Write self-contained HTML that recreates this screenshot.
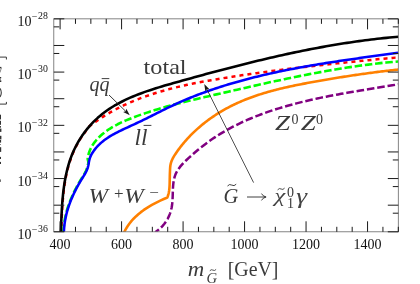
<!DOCTYPE html>
<html><head><meta charset="utf-8"><title>Gravitino decay width</title>
<style>
html,body{margin:0;padding:0;background:#fff;}
.ls, .ls text{font-family:"Liberation Serif",serif;}
body{width:420px;height:284px;overflow:hidden;position:relative;font-family:"Liberation Serif",serif;}
</style></head><body>
<svg width="420" height="284" viewBox="0 0 420 284" style="position:absolute;left:0;top:0;display:block;will-change:transform">
<defs><clipPath id="c"><rect x="53.80" y="18.85" width="344.50" height="212.95"/></clipPath></defs>
<rect x="0" y="0" width="420" height="284" fill="#fff"/>
<g clip-path="url(#c)" fill="none" stroke-linejoin="round">
<path d="M155.26,232.21 L157.87,230.31 L160.26,228.27 L162.44,226.08 L164.40,223.76 L166.14,221.32 L167.67,218.77 L168.99,216.11 L170.09,213.34 L170.98,210.48 L171.66,207.53 L172.13,204.51 L172.43,201.42 L172.61,198.30 L172.72,195.15 L172.81,192.00 L172.93,188.87 L173.11,185.77 L173.43,182.74 L173.91,179.78 L174.62,176.92 L175.59,174.17 L176.87,171.56 L178.41,169.07 L180.19,166.68 L182.16,164.39 L184.28,162.17 L186.50,160.02 L188.78,157.92 L191.09,155.85 L193.41,153.81 L195.74,151.81 L198.09,149.83 L200.45,147.90 L202.83,146.00 L205.24,144.14 L207.67,142.32 L210.13,140.55 L212.62,138.82 L215.13,137.13 L217.67,135.49 L220.24,133.88 L222.84,132.32 L225.46,130.80 L228.10,129.32 L230.76,127.87 L233.45,126.47 L236.16,125.10 L238.89,123.77 L241.64,122.46 L244.41,121.19 L247.19,119.95 L250.00,118.75 L252.82,117.57 L255.65,116.43 L258.50,115.32 L261.36,114.24 L264.24,113.20 L267.12,112.17 L270.02,111.18 L272.93,110.22 L275.85,109.28 L278.77,108.37 L281.71,107.48 L284.65,106.62 L287.59,105.78 L290.55,104.96 L293.50,104.17 L296.46,103.39 L299.43,102.64 L302.39,101.91 L305.36,101.20 L308.32,100.50 L311.30,99.83 L314.27,99.17 L317.24,98.52 L320.22,97.89 L323.20,97.28 L326.18,96.68 L329.16,96.09 L332.14,95.52 L335.13,94.95 L338.12,94.40 L341.11,93.85 L344.10,93.31 L347.10,92.79 L350.09,92.27 L353.09,91.75 L356.09,91.24 L359.09,90.74 L362.10,90.24 L365.11,89.74 L368.11,89.24 L371.13,88.75 L374.14,88.26 L377.15,87.77 L380.17,87.27 L383.19,86.79 L386.21,86.30 L389.24,85.81 L392.26,85.32 L395.29,84.82 L398.32,84.32" stroke="#800080" stroke-width="2.5" stroke-dasharray="7.6,2.85" stroke-dashoffset="3.0"/>
<path d="M124.07,232.36 L125.66,229.33 L127.41,226.47 L129.32,223.75 L131.38,221.17 L133.57,218.72 L135.90,216.41 L138.33,214.22 L140.88,212.14 L143.52,210.18 L146.24,208.32 L149.05,206.56 L151.91,204.90 L154.83,203.32 L157.80,201.82 L160.80,200.40 L163.82,199.05 L166.85,197.77 L167.18,197.79 L167.73,196.41 L168.19,195.02 L168.56,193.61 L168.87,192.18 L169.11,190.75 L169.29,189.31 L169.43,187.86 L169.53,186.40 L169.60,184.94 L169.65,183.47 L169.68,182.00 L169.71,180.53 L169.74,179.07 L169.78,177.60 L169.81,176.13 L169.85,174.65 L169.90,173.18 L169.95,171.70 L170.01,170.22 L170.08,168.74 L170.18,167.26 L170.34,165.79 L170.59,164.35 L170.94,162.95 L171.38,161.58 L171.91,160.25 L172.51,158.94 L173.17,157.65 L173.89,156.39 L174.66,155.14 L175.46,153.92 L176.28,152.70 L177.12,151.50 L177.97,150.30 L178.84,149.12 L179.72,147.94 L180.61,146.78 L181.52,145.63 L182.44,144.49 L183.37,143.35 L184.31,142.23 L185.27,141.12 L186.24,140.02 L187.22,138.93 L188.22,137.85 L189.22,136.78 L190.24,135.72 L191.27,134.68 L192.30,133.64 L193.35,132.61 L194.42,131.60 L195.49,130.60 L196.57,129.60 L197.66,128.62 L198.76,127.65 L199.88,126.69 L201.00,125.74 L202.13,124.81 L203.27,123.88 L204.42,122.96 L205.58,122.06 L206.74,121.17 L207.92,120.29 L209.10,119.42 L210.30,118.56 L211.50,117.71 L212.70,116.88 L213.92,116.06 L215.14,115.25 L216.37,114.45 L217.61,113.66 L218.86,112.88 L220.11,112.12 L221.36,111.36 L222.63,110.62 L223.90,109.89 L225.18,109.18 L226.46,108.47 L227.74,107.78 L229.04,107.10 L230.34,106.43 L231.64,105.77 L232.95,105.12 L234.26,104.49 L235.58,103.87 L236.90,103.26 L238.23,102.66 L239.56,102.07 L240.90,101.49 L242.24,100.92 L243.58,100.36 L244.93,99.81 L246.28,99.26 L247.64,98.73 L249.00,98.21 L250.37,97.70 L251.74,97.20 L253.11,96.70 L254.48,96.22 L255.86,95.74 L257.25,95.28 L258.63,94.82 L260.02,94.37 L261.41,93.93 L262.81,93.50 L264.21,93.07 L265.61,92.65 L267.01,92.24 L268.42,91.84 L269.83,91.44 L271.24,91.05 L272.65,90.67 L274.07,90.30 L275.49,89.93 L276.91,89.56 L278.33,89.21 L279.75,88.86 L281.18,88.51 L282.61,88.17 L284.04,87.84 L285.47,87.51 L286.90,87.18 L288.34,86.86 L289.77,86.55 L291.21,86.24 L292.65,85.93 L294.09,85.63 L295.53,85.34 L296.97,85.04 L298.41,84.75 L299.85,84.47 L301.29,84.18 L302.74,83.90 L304.18,83.63 L305.62,83.35 L307.07,83.08 L308.51,82.81 L309.96,82.54 L311.40,82.28 L312.85,82.02 L314.29,81.75 L315.73,81.49 L317.18,81.24 L318.62,80.98 L320.06,80.73 L321.51,80.47 L322.95,80.22 L324.39,79.97 L325.84,79.72 L327.28,79.48 L328.72,79.23 L330.16,78.99 L331.61,78.75 L333.05,78.51 L334.49,78.27 L335.94,78.04 L337.38,77.80 L338.82,77.57 L340.27,77.34 L341.71,77.11 L343.15,76.88 L344.60,76.66 L346.04,76.43 L347.48,76.21 L348.93,75.99 L350.37,75.77 L351.82,75.55 L353.26,75.33 L354.71,75.12 L356.16,74.91 L357.60,74.70 L359.05,74.49 L360.50,74.28 L361.94,74.07 L363.39,73.87 L364.84,73.67 L366.29,73.46 L367.74,73.26 L369.19,73.07 L370.64,72.87 L372.09,72.68 L373.54,72.48 L374.99,72.29 L376.45,72.10 L377.90,71.91 L379.36,71.73 L380.81,71.54 L382.27,71.37 L383.72,71.19 L385.18,71.02 L386.64,70.84 L388.10,70.67 L389.56,70.50 L391.02,70.33 L392.48,70.17 L393.94,70.00 L395.40,69.84 L396.87,69.68 L398.33,69.52" stroke="#ff8000" stroke-width="2.6"/>
<path d="M61.14,232.08 L61.26,229.21 L61.37,226.32 L61.49,223.39 L61.61,220.44 L61.74,217.47 L61.88,214.48 L62.03,211.47 L62.20,208.45 L62.40,205.41 L62.62,202.37 L62.87,199.32 L63.15,196.26 L63.46,193.21 L63.82,190.15 L64.21,187.10 L64.66,184.05 L65.15,181.02 L65.69,178.00 L66.29,174.99 L66.96,171.99 L67.68,169.02 L68.47,166.07 L69.33,163.15 L70.27,160.25 L71.28,157.38 L72.37,154.55 L73.54,151.75 L74.81,148.99 L76.15,146.27 L77.58,143.59 L79.08,140.96 L80.66,138.38 L82.32,135.85 L84.05,133.38 L85.85,130.97 L87.89,127.48 L90.32,125.58 L92.78,123.73 L95.27,121.94 L97.77,120.19 L100.30,118.49 L102.86,116.84 L105.43,115.24 L108.02,113.68 L110.64,112.17 L113.28,110.70 L115.93,109.27 L118.61,107.88 L121.30,106.54 L124.01,105.24 L126.74,103.97 L129.48,102.75 L132.25,101.56 L135.03,100.40 L137.82,99.29 L140.63,98.20 L143.45,97.16 L146.29,96.14 L149.14,95.15 L152.00,94.20 L154.88,93.28 L157.77,92.38 L160.67,91.52 L163.58,90.68 L166.50,89.86 L169.43,89.08 L172.36,88.31 L175.31,87.57 L178.27,86.86 L181.23,86.16 L184.20,85.48 L187.18,84.83 L190.16,84.19 L193.15,83.57 L196.14,82.97 L199.14,82.39 L202.14,81.81 L205.15,81.26 L208.16,80.71 L211.17,80.18 L214.18,79.66 L217.20,79.15 L220.21,78.66 L223.23,78.16 L226.24,77.68 L229.26,77.20 L232.27,76.74 L235.29,76.27 L238.30,75.82 L241.31,75.36 L244.32,74.91 L247.34,74.46 L250.35,74.02 L253.36,73.58 L256.37,73.15 L259.38,72.73 L262.40,72.31 L265.41,71.90 L268.42,71.49 L271.43,71.09 L274.44,70.69 L277.45,70.30 L280.46,69.91 L283.47,69.53 L286.49,69.15 L289.50,68.77 L292.51,68.41 L295.52,68.04 L298.53,67.68 L301.55,67.32 L304.56,66.97 L307.57,66.62 L310.59,66.28 L313.60,65.93 L316.62,65.60 L319.63,65.26 L322.65,64.93 L325.67,64.60 L328.68,64.27 L331.70,63.95 L334.72,63.63 L337.74,63.31 L340.76,62.99 L343.78,62.68 L346.80,62.37 L349.82,62.06 L352.85,61.75 L355.87,61.45 L358.90,61.14 L361.92,60.84 L364.95,60.54 L367.98,60.23 L371.01,59.94 L374.04,59.64 L377.07,59.34 L380.11,59.04 L383.14,58.76 L386.18,58.47 L389.21,58.19 L392.25,57.91 L395.29,57.62 L398.33,57.34" stroke="#ff0000" stroke-width="2.5" stroke-dasharray="4.03,4.03" stroke-dashoffset="1.9"/>
<path d="M63.44,232.18 L63.52,230.24 L63.65,228.31 L63.82,226.39 L64.03,224.48 L64.28,222.59 L64.57,220.72 L64.90,218.85 L65.27,217.00 L65.67,215.16 L66.12,213.34 L66.59,211.52 L67.11,209.72 L67.65,207.93 L68.23,206.15 L68.84,204.38 L69.48,202.63 L70.15,200.88 L70.85,199.15 L71.58,197.43 L72.33,195.72 L73.11,194.02 L73.92,192.32 L74.75,190.64 L75.60,188.97 L76.47,187.31 L77.37,185.66 L78.29,184.01 L79.23,182.38 L80.19,180.76 L81.16,179.14 L82.15,177.53 L83.15,175.93 L84.12,174.32 L85.05,172.69 L85.90,171.04 L86.65,169.35 L87.27,167.61 L87.74,165.82 L88.10,163.98 L88.41,162.12 L87.66,159.03 L88.14,155.95 L88.90,153.01 L89.93,150.20 L91.19,147.53 L92.67,144.99 L94.34,142.57 L96.18,140.27 L98.17,138.09 L100.29,136.02 L102.52,134.07 L104.84,132.21 L107.25,130.45 L109.74,128.79 L112.31,127.21 L114.94,125.71 L117.63,124.28 L120.37,122.92 L123.16,121.63 L125.98,120.39 L128.83,119.20 L131.71,118.06 L134.60,116.96 L137.50,115.89 L140.40,114.85 L143.31,113.84 L146.22,112.86 L149.12,111.90 L152.03,110.97 L154.95,110.06 L157.86,109.17 L160.78,108.30 L163.70,107.45 L166.62,106.62 L169.54,105.81 L172.46,105.02 L175.38,104.24 L178.31,103.48 L181.24,102.73 L184.17,101.99 L187.10,101.26 L190.03,100.55 L192.97,99.84 L195.90,99.14 L198.84,98.45 L201.77,97.76 L204.71,97.08 L207.65,96.40 L210.60,95.73 L213.54,95.05 L216.48,94.38 L219.43,93.71 L222.37,93.03 L225.32,92.36 L228.27,91.69 L231.22,91.02 L234.17,90.35 L237.12,89.68 L240.07,89.01 L243.02,88.33 L245.98,87.66 L248.93,86.98 L251.89,86.31 L254.85,85.64 L257.81,84.98 L260.77,84.32 L263.73,83.66 L266.70,83.01 L269.66,82.35 L272.63,81.71 L275.59,81.07 L278.56,80.43 L281.53,79.80 L284.50,79.17 L287.47,78.55 L290.44,77.93 L293.42,77.32 L296.39,76.71 L299.37,76.11 L302.35,75.52 L305.33,74.94 L308.31,74.36 L311.29,73.79 L314.27,73.22 L317.26,72.67 L320.24,72.12 L323.23,71.58 L326.22,71.04 L329.21,70.52 L332.20,70.01 L335.19,69.50 L338.18,69.00 L341.18,68.52 L344.17,68.04 L347.17,67.57 L350.17,67.12 L353.17,66.67 L356.17,66.23 L359.17,65.81 L362.18,65.40 L365.18,64.99 L368.19,64.60 L371.20,64.22 L374.21,63.86 L377.22,63.50 L380.23,63.16 L383.25,62.84 L386.26,62.54 L389.28,62.25 L392.30,61.97 L395.32,61.71 L398.34,61.46" stroke="#00ff00" stroke-width="2.6" stroke-dasharray="7.5,2.8"/>
<path d="M63.89,232.38 L63.97,230.44 L64.10,228.51 L64.27,226.59 L64.48,224.68 L64.73,222.79 L65.02,220.92 L65.35,219.05 L65.72,217.20 L66.12,215.36 L66.57,213.54 L67.04,211.72 L67.56,209.92 L68.10,208.13 L68.68,206.35 L69.29,204.58 L69.93,202.83 L70.60,201.08 L71.30,199.35 L72.03,197.63 L72.78,195.92 L73.56,194.22 L74.37,192.52 L75.20,190.84 L76.05,189.17 L76.92,187.51 L77.82,185.86 L78.74,184.21 L79.68,182.58 L80.64,180.96 L81.61,179.34 L82.60,177.73 L83.60,176.13 L84.57,174.52 L85.50,172.89 L86.35,171.24 L87.10,169.55 L87.72,167.81 L88.19,166.02 L88.55,164.18 L88.86,162.32 L89.23,160.47 L89.70,158.64 L90.31,156.86 L91.10,155.14 L92.02,153.49 L93.02,151.90 L94.08,150.37 L95.20,148.90 L96.38,147.49 L97.61,146.13 L98.89,144.83 L100.21,143.57 L101.59,142.36 L103.01,141.19 L104.46,140.07 L105.96,138.98 L107.49,137.94 L109.05,136.92 L110.65,135.94 L112.27,134.98 L113.92,134.06 L115.59,133.15 L117.28,132.27 L118.98,131.41 L120.71,130.56 L122.44,129.73 L124.19,128.91 L125.94,128.09 L127.69,127.29 L129.45,126.48 L131.21,125.68 L132.97,124.88 L134.72,124.07 L136.46,123.26 L138.20,122.44 L139.93,121.62 L141.65,120.79 L143.36,119.96 L145.07,119.12 L146.77,118.28 L148.47,117.44 L150.16,116.59 L151.85,115.75 L153.54,114.91 L155.22,114.06 L156.90,113.22 L158.58,112.38 L160.26,111.54 L161.94,110.70 L163.62,109.87 L165.30,109.04 L166.98,108.22 L168.66,107.41 L170.34,106.60 L172.03,105.80 L173.72,105.00 L175.41,104.22 L177.11,103.44 L178.81,102.67 L180.51,101.91 L182.22,101.16 L183.94,100.42 L185.65,99.69 L187.37,98.97 L189.10,98.25 L190.83,97.55 L192.56,96.85 L194.30,96.16 L196.04,95.48 L197.78,94.81 L199.53,94.14 L201.28,93.49 L203.03,92.84 L204.79,92.20 L206.55,91.57 L208.31,90.94 L210.08,90.32 L211.85,89.71 L213.62,89.11 L215.39,88.52 L217.17,87.93 L218.95,87.35 L220.74,86.77 L222.53,86.21 L224.32,85.65 L226.11,85.10 L227.91,84.55 L229.70,84.01 L231.51,83.48 L233.31,82.96 L235.12,82.44 L236.92,81.93 L238.74,81.42 L240.55,80.92 L242.36,80.42 L244.18,79.93 L246.00,79.44 L247.82,78.96 L249.65,78.48 L251.48,78.01 L253.30,77.55 L255.13,77.09 L256.97,76.64 L258.80,76.19 L260.64,75.75 L262.48,75.31 L264.31,74.88 L266.16,74.46 L268.00,74.04 L269.84,73.62 L271.69,73.21 L273.54,72.80 L275.38,72.40 L277.23,72.01 L279.09,71.62 L280.94,71.23 L282.79,70.85 L284.65,70.47 L286.50,70.10 L288.36,69.73 L290.22,69.36 L292.08,69.00 L293.94,68.64 L295.80,68.29 L297.66,67.94 L299.52,67.60 L301.39,67.26 L303.25,66.92 L305.12,66.59 L306.98,66.26 L308.85,65.93 L310.71,65.61 L312.58,65.29 L314.45,64.97 L316.31,64.66 L318.18,64.35 L320.05,64.04 L321.92,63.73 L323.78,63.43 L325.65,63.13 L327.52,62.83 L329.39,62.54 L331.26,62.25 L333.12,61.96 L334.99,61.67 L336.86,61.39 L338.72,61.11 L340.59,60.83 L342.46,60.55 L344.32,60.27 L346.19,60.00 L348.05,59.73 L349.92,59.46 L351.78,59.19 L353.65,58.92 L355.51,58.65 L357.37,58.39 L359.23,58.13 L361.09,57.86 L362.95,57.60 L364.81,57.34 L366.66,57.09 L368.52,56.83 L370.37,56.57 L372.23,56.32 L374.08,56.06 L375.93,55.81 L377.78,55.55 L379.63,55.30 L381.47,55.05 L383.32,54.81 L385.16,54.56 L387.01,54.32 L388.85,54.07 L390.69,53.83 L392.52,53.58 L394.36,53.34 L396.19,53.09 L398.02,52.85" stroke="#0000ff" stroke-width="2.55"/>
<path d="M60.84,232.08 L60.96,229.21 L61.07,226.32 L61.19,223.39 L61.31,220.44 L61.44,217.47 L61.58,214.48 L61.73,211.47 L61.90,208.45 L62.10,205.41 L62.32,202.37 L62.57,199.32 L62.85,196.26 L63.16,193.21 L63.52,190.15 L63.91,187.10 L64.36,184.05 L64.85,181.02 L65.39,178.00 L65.99,174.99 L66.66,171.99 L67.38,169.02 L68.17,166.07 L69.03,163.15 L69.97,160.25 L70.98,157.38 L72.07,154.55 L73.24,151.75 L74.51,148.99 L75.85,146.27 L77.28,143.59 L78.78,140.96 L80.36,138.38 L82.02,135.85 L83.75,133.38 L85.55,130.97 L87.42,128.61 L89.35,126.32 L91.35,124.09 L93.41,121.94 L95.53,119.85 L97.70,117.84 L99.93,115.91 L102.21,114.05 L104.54,112.26 L106.92,110.53 L109.35,108.87 L111.83,107.28 L114.34,105.74 L116.90,104.27 L119.49,102.84 L122.13,101.48 L124.79,100.16 L127.49,98.89 L130.23,97.66 L132.99,96.48 L135.77,95.34 L138.58,94.24 L141.42,93.17 L144.28,92.14 L147.15,91.13 L150.04,90.16 L152.95,89.21 L155.87,88.28 L158.80,87.38 L161.74,86.49 L164.69,85.62 L167.64,84.76 L170.60,83.92 L173.56,83.08 L176.51,82.25 L179.47,81.42 L182.42,80.59 L185.37,79.77 L188.31,78.95 L191.26,78.14 L194.20,77.33 L197.14,76.52 L200.07,75.71 L203.01,74.92 L205.94,74.12 L208.87,73.33 L211.80,72.54 L214.73,71.76 L217.66,70.99 L220.58,70.22 L223.51,69.45 L226.43,68.69 L229.35,67.93 L232.28,67.18 L235.20,66.43 L238.12,65.69 L241.04,64.95 L243.96,64.21 L246.88,63.48 L249.80,62.75 L252.72,62.03 L255.64,61.31 L258.57,60.60 L261.49,59.90 L264.41,59.21 L267.33,58.52 L270.26,57.83 L273.18,57.16 L276.11,56.49 L279.04,55.83 L281.97,55.17 L284.90,54.53 L287.83,53.89 L290.77,53.26 L293.71,52.63 L296.65,52.02 L299.59,51.41 L302.53,50.81 L305.48,50.22 L308.43,49.64 L311.38,49.06 L314.33,48.50 L317.29,47.94 L320.25,47.39 L323.21,46.85 L326.18,46.32 L329.15,45.80 L332.13,45.29 L335.10,44.79 L338.09,44.30 L341.07,43.81 L344.06,43.34 L347.06,42.88 L350.06,42.43 L353.06,41.98 L356.07,41.55 L359.08,41.13 L362.10,40.72 L365.12,40.32 L368.15,39.93 L371.18,39.55 L374.22,39.18 L377.27,38.82 L380.32,38.48 L383.37,38.16 L386.43,37.85 L389.50,37.55 L392.58,37.26 L395.66,36.99 L398.74,36.72" stroke="#000000" stroke-width="2.6"/>
</g>
<rect x="53.80" y="18.85" width="344.50" height="212.95" fill="none" stroke="#666" stroke-width="0.8"/>
<path d="M60.10,231.80v-10.50M60.10,18.85v10.50M75.47,231.80v-5.00M75.47,18.85v5.00M90.85,231.80v-5.00M90.85,18.85v5.00M106.22,231.80v-5.00M106.22,18.85v5.00M121.59,231.80v-10.50M121.59,18.85v10.50M136.96,231.80v-5.00M136.96,18.85v5.00M152.34,231.80v-5.00M152.34,18.85v5.00M167.71,231.80v-5.00M167.71,18.85v5.00M183.08,231.80v-10.50M183.08,18.85v10.50M198.45,231.80v-5.00M198.45,18.85v5.00M213.83,231.80v-5.00M213.83,18.85v5.00M229.20,231.80v-5.00M229.20,18.85v5.00M244.57,231.80v-10.50M244.57,18.85v10.50M259.95,231.80v-5.00M259.95,18.85v5.00M275.32,231.80v-5.00M275.32,18.85v5.00M290.69,231.80v-5.00M290.69,18.85v5.00M306.06,231.80v-10.50M306.06,18.85v10.50M321.44,231.80v-5.00M321.44,18.85v5.00M336.81,231.80v-5.00M336.81,18.85v5.00M352.18,231.80v-5.00M352.18,18.85v5.00M367.55,231.80v-10.50M367.55,18.85v10.50M382.93,231.80v-5.00M382.93,18.85v5.00M398.30,231.80v-5.00M398.30,18.85v5.00M53.80,231.80h10.50M398.30,231.80h-10.50M53.80,213.19h5.50M398.30,213.19h-5.50M53.80,205.18h10.50M398.30,205.18h-10.50M53.80,186.58h5.50M398.30,186.58h-5.50M53.80,178.56h10.50M398.30,178.56h-10.50M53.80,159.96h5.50M398.30,159.96h-5.50M53.80,151.94h10.50M398.30,151.94h-10.50M53.80,133.34h5.50M398.30,133.34h-5.50M53.80,125.33h10.50M398.30,125.33h-10.50M53.80,106.72h5.50M398.30,106.72h-5.50M53.80,98.71h10.50M398.30,98.71h-10.50M53.80,80.10h5.50M398.30,80.10h-5.50M53.80,72.09h10.50M398.30,72.09h-10.50M53.80,53.48h5.50M398.30,53.48h-5.50M53.80,45.47h10.50M398.30,45.47h-10.50M53.80,26.86h5.50M398.30,26.86h-5.50M53.80,18.85h10.50M398.30,18.85h-10.50" stroke="#1a1a1a" stroke-width="1" fill="none"/>
<g class="ls" fill="#111">
<text x="60.10" y="248.6" font-size="14" text-anchor="middle">400</text>
<text x="121.59" y="248.6" font-size="14" text-anchor="middle">600</text>
<text x="183.08" y="248.6" font-size="14" text-anchor="middle">800</text>
<text x="244.57" y="248.6" font-size="14" text-anchor="middle">1000</text>
<text x="306.06" y="248.6" font-size="14" text-anchor="middle">1200</text>
<text x="367.55" y="248.6" font-size="14" text-anchor="middle">1400</text>
<text x="31.4" y="238.80" font-size="14" text-anchor="end">10</text>
<text x="31.8" y="232.75" font-size="10">−</text>
<text x="38.1" y="232.20" font-size="11" textLength="9.8" lengthAdjust="spacingAndGlyphs">36</text>
<text x="31.4" y="185.56" font-size="14" text-anchor="end">10</text>
<text x="31.8" y="179.51" font-size="10">−</text>
<text x="38.1" y="178.96" font-size="11" textLength="9.8" lengthAdjust="spacingAndGlyphs">34</text>
<text x="31.4" y="132.33" font-size="14" text-anchor="end">10</text>
<text x="31.8" y="126.28" font-size="10">−</text>
<text x="38.1" y="125.73" font-size="11" textLength="9.8" lengthAdjust="spacingAndGlyphs">32</text>
<text x="31.4" y="79.09" font-size="14" text-anchor="end">10</text>
<text x="31.8" y="73.04" font-size="10">−</text>
<text x="38.1" y="72.49" font-size="11" textLength="9.8" lengthAdjust="spacingAndGlyphs">30</text>
<text x="31.4" y="25.85" font-size="14" text-anchor="end">10</text>
<text x="31.8" y="19.80" font-size="10">−</text>
<text x="38.1" y="19.25" font-size="11" textLength="9.8" lengthAdjust="spacingAndGlyphs">28</text>
</g>
<g class="ls" fill="#3a3a3a">
<text x="143.6" y="74.2" font-size="21" textLength="43" lengthAdjust="spacingAndGlyphs">total</text>
<text x="89.5" y="90.7" font-size="21" font-style="italic" textLength="20" lengthAdjust="spacingAndGlyphs">qq</text>
<path d="M101.7,78.6H109.3" stroke="#2a2a2a" stroke-width="0.9"/>
<text x="134.6" y="144.6" font-size="22.5" font-style="italic" textLength="13" lengthAdjust="spacingAndGlyphs">ll</text>
<path d="M143.6,125.4H151.4" stroke="#2a2a2a" stroke-width="0.9"/>
<text x="88.6" y="202.9" font-size="20.5" font-style="italic" textLength="19.5" lengthAdjust="spacingAndGlyphs">W</text>
<text x="113.9" y="198.6" font-size="17">+</text>
<text x="124.3" y="202.9" font-size="20.5" font-style="italic" textLength="19.5" lengthAdjust="spacingAndGlyphs">W</text>
<text x="149.4" y="197.3" font-size="14" textLength="9.6" lengthAdjust="spacingAndGlyphs">−</text>
<text x="275" y="130.4" font-size="20.5" font-style="italic" textLength="15" lengthAdjust="spacingAndGlyphs">Z</text>
<text x="291.4" y="123.6" font-size="14">0</text>
<text x="300.7" y="130.4" font-size="20.5" font-style="italic" textLength="15" lengthAdjust="spacingAndGlyphs">Z</text>
<text x="316" y="123.6" font-size="14">0</text>
<text x="223.5" y="202.5" font-size="20.5" font-style="italic">G</text>
<path d="M227.5,186 q2,-2.4 4.3,-0.9 t4.4,-0.9" stroke="#2a2a2a" stroke-width="0.9" fill="none"/>
<path d="M247,197H265.6 M261.5,193.6 q1.2,2.6 4.6,3.4 q-3.4,0.8 -4.6,3.4" stroke="#2a2a2a" stroke-width="0.9" fill="none"/>
<text x="274.6" y="202.3" font-size="19.5" font-style="italic" fill="#444" textLength="10.8" lengthAdjust="spacingAndGlyphs">χ</text>
<path d="M277.6,189.9 q1.7,-2.2 3.5,-0.9 t3.5,-0.9" stroke="#3a3a3a" stroke-width="0.9" fill="none"/>
<text x="287" y="197" font-size="14">0</text>
<text x="287" y="207.5" font-size="14">1</text>
<text x="296.2" y="202.8" font-size="20" font-style="italic" fill="#444" textLength="10.8" lengthAdjust="spacingAndGlyphs">γ</text>
<text x="187.7" y="276.3" font-size="21.5" font-style="italic" textLength="16.5" lengthAdjust="spacingAndGlyphs">m</text>
<text x="206.6" y="282.6" font-size="14" font-style="italic" textLength="10.6" lengthAdjust="spacingAndGlyphs">G</text>
<path d="M209.8,270.8 q1.4,-1.8 3.1,-0.7 t3.2,-0.7" stroke="#2a2a2a" stroke-width="0.8" fill="none"/>
<text x="227.7" y="276.2" font-size="22" textLength="50.8" lengthAdjust="spacingAndGlyphs">[GeV]</text>
</g>
<path d="M109.00,95.00L125.60,111.20" fill="none" stroke="#222" stroke-width="0.90"/><path d="M129.75,115.25L123.13,112.01L125.60,111.20L126.35,108.71Z" fill="#1a1a1a"/>
<path d="M253.60,182.60L206.85,89.19" fill="none" stroke="#222" stroke-width="0.80"/><path d="M204.25,84.00L209.44,89.23L206.85,89.19L205.33,91.29Z" fill="#1a1a1a"/>
<g stroke="#3a3a3a" stroke-width="1" fill="none">
<path d="M0,57.1H6.4V59.5"/>
<path d="M0,104.1H6.4V101.9"/>
<path d="M1.3,68L0,72.5" stroke-width="0.6"/>
<path d="M0,88.4Q2.6,92.7 0,97" stroke-width="1.1"/>
</g>
<g fill="#333">
<rect x="0" y="66.9" width="1.4" height="1.4"/>
<rect x="0" y="77.0" width="1.2" height="1.3"/>
<rect x="0" y="80.4" width="1.3" height="1.6"/>
<rect x="0" y="78.3" width="0.5" height="2.1"/>
<rect x="0" y="114.7" width="1.0" height="4.7"/>
<rect x="0" y="120.8" width="1.0" height="4.0"/>
<rect x="0" y="126.1" width="1.0" height="1.5"/>
<rect x="0" y="128.6" width="1.4" height="3.3"/>
<rect x="0" y="135.8" width="1.4" height="3.6"/>
<rect x="0" y="140.0" width="1.1" height="2.6"/>
<rect x="0" y="144.0" width="0.8" height="0.7"/>
<rect x="0" y="147.2" width="1.2" height="4.7"/>
<rect x="0" y="156.9" width="1.0" height="2.1"/>
<rect x="0" y="161.9" width="1.0" height="2.1"/>
<rect x="0" y="179.4" width="0.7" height="2.5"/>
</g>
</svg>
</body></html>
